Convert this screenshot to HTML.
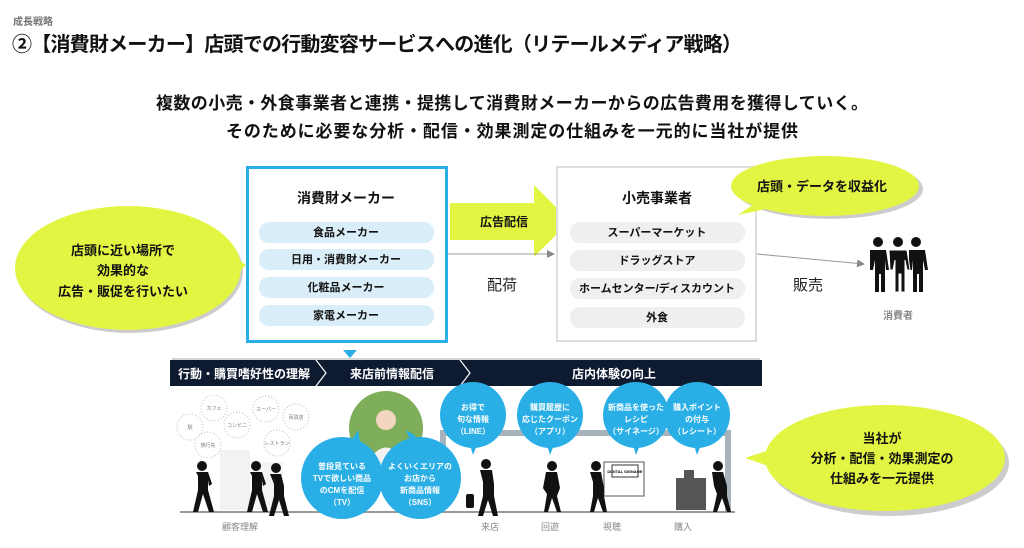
<!DOCTYPE html>
<html><head><meta charset="utf-8"><style>
html,body{margin:0;padding:0;background:#fff;}
svg{display:block;font-family:"Liberation Sans","Noto Sans CJK JP",sans-serif;}
.b{font-weight:bold;}
</style></head><body>
<svg width="1024" height="548" viewBox="0 0 1024 548" xmlns="http://www.w3.org/2000/svg">
<defs>
<marker id="ar" markerWidth="8" markerHeight="8" refX="7" refY="4" orient="auto"><path d="M0,0 L8,4 L0,8 z" fill="#888"/></marker>
</defs>
<text x="13" y="25" font-size="10" fill="#777" class="b">成長戦略</text>
<text x="12" y="51" font-size="20" fill="#111" class="b" textLength="730">②【消費財メーカー】店頭での行動変容サービスへの進化（リテールメディア戦略）</text>
<text x="512" y="109" font-size="17" fill="#111" class="b" text-anchor="middle" textLength="712">複数の小売・外食事業者と連携・提携して消費財メーカーからの広告費用を獲得していく。</text>
<text x="512" y="137" font-size="17" fill="#111" class="b" text-anchor="middle" textLength="572">そのために必要な分析・配信・効果測定の仕組みを一元的に当社が提供</text>

<!-- left callout -->
<ellipse cx="128" cy="268" rx="113" ry="62" fill="#ccc" transform="translate(2,3)"/>
<path d="M225,250 L246,265 L225,285 z" fill="#e2f542"/>
<ellipse cx="128" cy="268" rx="113" ry="62" fill="#e2f542"/>
<g font-size="13" class="b" fill="#111" text-anchor="middle">
<text x="123" y="255">店頭に近い場所で</text><text x="123" y="275">効果的な</text><text x="123" y="296">広告・販促を行いたい</text></g>

<!-- maker box -->
<rect x="247.5" y="167.5" width="199" height="174" fill="#fff" stroke="#29aee6" stroke-width="3"/>
<text x="346" y="203" font-size="14" class="b" text-anchor="middle" fill="#111">消費財メーカー</text>
<g fill="#daeef9"><rect x="259" y="222" width="175" height="21" rx="10"/><rect x="259" y="249" width="175" height="21" rx="10"/><rect x="259" y="277" width="175" height="21" rx="10"/><rect x="259" y="305" width="175" height="21" rx="10"/></g>
<g font-size="11" class="b" text-anchor="middle" fill="#111"><text x="346" y="236">食品メーカー</text><text x="346" y="263">日用・消費財メーカー</text><text x="346" y="291">化粧品メーカー</text><text x="346" y="319">家電メーカー</text></g>

<!-- green arrow -->
<path d="M450,203 L534,203 L534,185 L570,221 L534,257 L534,240 L450,240 z" fill="#e2f542"/>
<text x="480" y="226" font-size="12" class="b" fill="#111">広告配信</text>
<line x1="448" y1="254" x2="554" y2="254" stroke="#999" stroke-width="1" marker-end="url(#ar)"/>
<text x="502" y="290" font-size="15" fill="#222" text-anchor="middle">配荷</text>

<!-- retail box -->
<rect x="557" y="167" width="199" height="174" fill="#fff" stroke="#ddd" stroke-width="2"/>
<text x="657" y="203" font-size="14" class="b" text-anchor="middle" fill="#111">小売事業者</text>
<g fill="#efefef"><rect x="570" y="222" width="175" height="21" rx="10"/><rect x="570" y="250" width="175" height="21" rx="10"/><rect x="570" y="278" width="175" height="21" rx="10"/><rect x="570" y="307" width="175" height="21" rx="10"/></g>
<g font-size="11" class="b" text-anchor="middle" fill="#111"><text x="657" y="236">スーパーマーケット</text><text x="657" y="264">ドラッグストア</text><text x="657" y="292">ホームセンター/ディスカウント</text><text x="657" y="321">外食</text></g>
<!-- top right callout -->
<ellipse cx="827" cy="187" rx="94" ry="30" fill="#ccc" transform="translate(2,2)"/>
<path d="M760,200 L738,215 L775,207 z" fill="#e2f542"/>
<ellipse cx="825" cy="186" rx="94" ry="30" fill="#e2f542"/>
<text x="822" y="191" font-size="13" class="b" text-anchor="middle" fill="#111">店頭・データを収益化</text>

<line x1="757" y1="254" x2="864" y2="264" stroke="#999" stroke-width="1" marker-end="url(#ar)"/>
<text x="808" y="290" font-size="15" fill="#222" text-anchor="middle">販売</text>
<!-- people -->
<g fill="#111">
<circle cx="878" cy="242" r="5"/><circle cx="898" cy="242" r="5"/><circle cx="916" cy="242" r="5"/>
<path d="M870,250 h16 l3,20 h-3 l-1,-10 v32 h-4 v-18 h-2 v18 h-4 v-32 l-2,10 h-3 z"/>
<path d="M909,250 h16 l3,20 h-3 l-2,-10 v32 h-4 v-18 h-2 v18 h-4 v-32 l-1,10 h-3 z"/>
<path d="M889,250 h18 l3,20 h-3 l-2,-10 v32 h-4 v-18 h-2 v18 h-4 v-32 l-2,10 h-3 z" stroke="#fff" stroke-width="1"/>
</g>
<text x="898" y="319" font-size="10" fill="#888" class="b" text-anchor="middle">消費者</text>

<!-- small triangle -->
<path d="M343,350 L357,350 L350,358 z" fill="#29aee6"/>
<line x1="172" y1="359" x2="760" y2="359" stroke="#aaa" stroke-width="1"/>
<!-- dark band -->
<rect x="170" y="360" width="592" height="26" fill="#0d1a2f"/>
<polyline points="316,360 326,373 316,386" fill="none" stroke="#fff" stroke-width="1.2"/>
<polyline points="460,360 470,373 460,386" fill="none" stroke="#fff" stroke-width="1.2"/>
<g font-size="12" class="b" fill="#fff" text-anchor="middle"><text x="244" y="378">行動・購買嗜好性の理解</text><text x="392" y="378">来店前情報配信</text><text x="614" y="378">店内体験の向上</text></g>

<!-- dotted circles -->
<g fill="none" stroke="#bbb" stroke-dasharray="1,2">
<circle cx="190" cy="427" r="13"/><circle cx="214" cy="408" r="13"/><circle cx="237" cy="425" r="13"/><circle cx="208" cy="445" r="13"/><circle cx="266" cy="409" r="13"/><circle cx="296" cy="417" r="13"/><circle cx="277" cy="443" r="13"/>
</g>
<g font-size="5" fill="#777" text-anchor="middle"><text x="190" y="429">駅</text><text x="214" y="410">カフェ</text><text x="237" y="427">コンビニ</text><text x="208" y="447">旅行先</text><text x="266" y="411">スーパー</text><text x="296" y="419">百貨店</text><text x="277" y="445">レストラン</text></g>
<rect x="220" y="450" width="30" height="60" fill="#f2f2f2"/><rect x="255" y="462" width="28" height="48" fill="#f4f4f4"/>
<!-- store frame -->
<rect x="440" y="430" width="290" height="6" fill="#a8b4bb"/>
<rect x="440" y="430" width="6" height="80" fill="#a8b4bb"/>
<rect x="725" y="430" width="6" height="82" fill="#a8b4bb"/>
<rect x="604" y="462" width="40" height="34" fill="#fff" stroke="#555"/>
<rect x="612" y="465" width="26" height="12" fill="#fff" stroke="#333"/>
<text x="625" y="473" font-size="4" text-anchor="middle" class="b">DIGITAL SIGNAGE</text>
<rect x="676" y="478" width="30" height="32" fill="#555"/>
<rect x="684" y="470" width="10" height="8" fill="#555"/>
<line x1="180" y1="512" x2="735" y2="512" stroke="#999" stroke-width="2"/>

<!-- silhouettes -->
<g fill="#111">
<g transform="translate(196,466)"><circle cx="6" cy="0" r="5"/><path d="M0,6 h12 l4,12 l-3,2 l-1,-6 v10 l6,22 h-5 l-6,-18 l-5,18 h-5 l5,-22 v-14 z"/></g>
<g transform="translate(250,466)"><circle cx="6" cy="0" r="5"/><path d="M0,6 h12 l4,12 l-3,2 l-1,-6 v10 l6,22 h-5 l-6,-18 l-5,18 h-5 l5,-22 v-14 z"/></g>
<g transform="translate(270,468)"><circle cx="6" cy="0" r="5"/><path d="M0,6 h11 l3,12 v10 l5,20 h-5 l-5,-16 l-5,16 h-5 l5,-20 v-12 z"/></g>
<g transform="translate(480,464)"><circle cx="6" cy="0" r="5"/><path d="M0,6 h12 l2,14 v12 l4,20 h-5 l-5,-16 l-5,16 h-5 l5,-20 v-14 z"/><rect x="-14" y="30" width="8" height="14" rx="2"/></g>
<g transform="translate(546,466)"><circle cx="6" cy="0" r="5"/><path d="M0,6 h11 l3,16 l-3,8 l4,16 h-4 l-5,-14 l-4,14 h-4 l3,-18 l-4,-6 z"/></g>
<g transform="translate(590,466)"><circle cx="6" cy="0" r="5"/><path d="M0,6 h11 l3,16 v8 l3,16 h-4 l-5,-14 l-4,14 h-4 l3,-16 v-14 z"/></g>
<g transform="translate(712,466)"><circle cx="6" cy="0" r="5"/><path d="M0,6 h11 l4,14 v10 l4,16 h-4 l-5,-14 l-5,14 h-4 l4,-18 l-3,-8 z"/></g>
</g>

<!-- photo circle -->
<circle cx="386" cy="428" r="37" fill="#7fae5a"/>
<circle cx="386" cy="420" r="10" fill="#f3d6c0"/><path d="M366,465 q20,-35 40,0 z" fill="#f2f2f2"/>
<!-- blue circles -->
<g fill="#29aee6">
<circle cx="342" cy="478" r="41"/><path d="M352,440 l6,-10 l2,12 z"/>
<circle cx="420" cy="478" r="41"/><path d="M410,440 l-4,-10 l10,6 z"/>
<circle cx="473" cy="415" r="33"/><path d="M470,445 l3,10 l4,-10 z"/>
<circle cx="550" cy="415" r="33"/><path d="M547,445 l3,10 l4,-10 z"/>
<circle cx="636" cy="415" r="33"/><path d="M633,445 l3,10 l4,-10 z"/>
<circle cx="697" cy="415" r="33"/><path d="M694,445 l3,10 l4,-10 z"/>
</g>
<g font-size="8" class="b" fill="#fff" text-anchor="middle">
<text x="342" y="469">普段見ている</text><text x="342" y="481">TVで欲しい商品</text><text x="342" y="493">のCMを配信</text><text x="342" y="505">（TV）</text>
<text x="420" y="469">よくいくエリアの</text><text x="420" y="481">お店から</text><text x="420" y="493">新商品情報</text><text x="420" y="505">（SNS）</text>
<text x="473" y="410">お得で</text><text x="473" y="422">旬な情報</text><text x="473" y="434">（LINE）</text>
<text x="550" y="410">購買履歴に</text><text x="550" y="422">応じたクーポン</text><text x="550" y="434">（アプリ）</text>
<text x="636" y="410">新商品を使った</text><text x="636" y="422">レシピ</text><text x="636" y="434">（サイネージ）</text>
<text x="697" y="410">購入ポイント</text><text x="697" y="422">の付与</text><text x="697" y="434">（レシート）</text>
</g>
<g font-size="9" fill="#888" text-anchor="middle"><text x="240" y="530">顧客理解</text><text x="490" y="530">来店</text><text x="550" y="530">回遊</text><text x="612" y="530">視聴</text><text x="683" y="530">購入</text></g>

<!-- right callout -->
<ellipse cx="887" cy="460" rx="120" ry="53" fill="#ccc" transform="translate(2,3)"/>
<path d="M775,448 L745,458 L780,470 z" fill="#e2f542"/>
<ellipse cx="885" cy="458" rx="120" ry="53" fill="#e2f542"/>
<g font-size="13" class="b" fill="#111" text-anchor="middle"><text x="882" y="443">当社が</text><text x="882" y="463">分析・配信・効果測定の</text><text x="882" y="483">仕組みを一元提供</text></g>
</svg>
</body></html>
